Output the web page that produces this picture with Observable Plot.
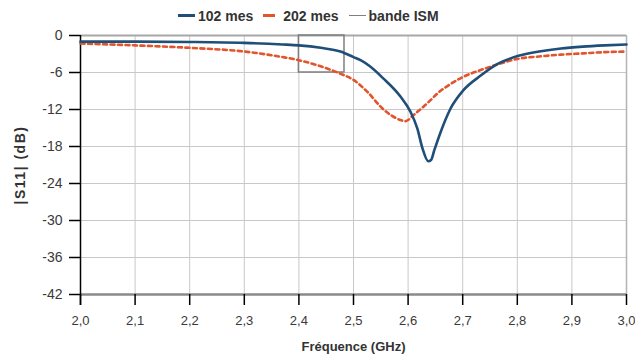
<!DOCTYPE html>
<html>
<head>
<meta charset="utf-8">
<script src="https://cdn.jsdelivr.net/npm/d3@7"></script>
<script src="https://cdn.jsdelivr.net/npm/@observablehq/plot@0.6"></script>
<style>
  body { margin: 0; background: #fff; font-family: "Liberation Sans", Arial, sans-serif; }
  #wrap { width: 635px; }
  #legend { height: 27px; display: flex; align-items: center; padding-left: 178px; padding-top: 4px; box-sizing: border-box;
            font-weight: bold; font-size: 14px; color: #333; }
  .item { display: flex; align-items: center; margin-right: 10px; }
  .sw { width: 17px; height: 0; margin-right: 3px; }
  svg [aria-label="x-axis tick label"], svg [aria-label="x-axis tick label"] text { font-size: 13px !important; }
  svg [aria-label="y-axis tick label"], svg [aria-label="y-axis tick label"] text { font-size: 14px !important; }
  svg [aria-label="x-axis label"], svg [aria-label="x-axis label"] text { font-weight: bold; font-size: 13px !important; fill: #333; }
  svg [aria-label="y-axis label"], svg [aria-label="y-axis label"] text { font-weight: bold; font-size: 14px !important; letter-spacing: 1.5px; fill: #333; }
</style>
</head>
<body>
<div id="wrap">
  <div id="legend"></div>
  <div id="chart"></div>
</div>
<script>
// Series names
const seriesNames = ["102 mes", "202 mes", "bande ISM"];
const seriesColors = ["#1f4e79", "#e2542b", "#7f7f7f"];

// 102 mes
const freq102 = [2.0, 2.1, 2.2, 2.3, 2.37, 2.4, 2.44, 2.476, 2.5, 2.513, 2.53, 2.555, 2.586, 2.604, 2.617, 2.626, 2.637, 2.642, 2.648, 2.659, 2.678, 2.701, 2.733, 2.764, 2.802, 2.84, 2.88, 2.92, 2.96, 3.0];
const s102    = [-1.0, -1.0, -1.05, -1.2, -1.45, -1.6, -2.0, -2.6, -3.5, -4.0, -5.0, -7.0, -9.9, -12.3, -15.1, -18.2, -20.4, -20.2, -18.6, -15.8, -11.8, -8.9, -6.5, -4.6, -3.3, -2.6, -2.1, -1.8, -1.6, -1.45];

// 202 mes
const freq202 = [2.0, 2.1, 2.2, 2.3, 2.37, 2.4, 2.44, 2.476, 2.5, 2.525, 2.555, 2.586, 2.595, 2.61, 2.635, 2.659, 2.672, 2.701, 2.733, 2.76, 2.8, 2.84, 2.88, 2.92, 2.96, 3.0];
const s202    = [-1.3, -1.6, -2.0, -2.6, -3.5, -4.0, -5.0, -6.2, -7.2, -9.1, -12.0, -13.7, -13.9, -12.9, -11.0, -9.0, -8.2, -6.7, -5.6, -4.8, -3.8, -3.4, -3.1, -2.9, -2.7, -2.6];

// ISM band
const ismBand = [2.4, 2.4835];
const ismLevel = [0, -6];

// Axis ticks
const xTicks = [2.0, 2.1, 2.2, 2.3, 2.4, 2.5, 2.6, 2.7, 2.8, 2.9, 3.0];
const yTicks = [0, -6, -12, -18, -24, -30, -36, -42];

const d102 = freq102.map((f, i) => ({f, s: s102[i]}));
const d202 = freq202.map((f, i) => ({f, s: s202[i]}));
const ism = [{x1: ismBand[0], x2: ismBand[1], y1: ismLevel[0], y2: ismLevel[1]}];

// Legend
const legend = document.getElementById("legend");
const swStyles = [
  "border-top: 3px solid " + seriesColors[0],
  "border-top: 3px dashed " + seriesColors[1] + "; width: 12px; margin-right:8px",
  "border-top: 1.5px solid " + seriesColors[2]
];
seriesNames.forEach((n, i) => {
  const it = document.createElement("div");
  it.className = "item";
  it.innerHTML = `<span class="sw" style="${swStyles[i]}"></span><span>${n}</span>`;
  legend.appendChild(it);
});

const plot = Plot.plot({
  width: 635,
  height: 327,
  marginTop: 8,
  marginBottom: 60,
  marginLeft: 80,
  marginRight: 9,
  style: {fontFamily: "'Liberation Sans', Arial, sans-serif", fontSize: "13px", color: "#404040"},
  x: {domain: [2.0, 3.0]},
  y: {domain: [-42, 0]},
  marks: [
    Plot.ruleX(xTicks.slice(1, -1), {stroke: "#c8c8c8", strokeWidth: 1}),
    Plot.ruleY(yTicks.slice(1, -1), {stroke: "#c8c8c8", strokeWidth: 1}),
    Plot.ruleY([yTicks[0]], {stroke: "#a8a8a8", strokeWidth: 2}),
    Plot.ruleX([xTicks[xTicks.length - 1]], {stroke: "#b4b4b4", strokeWidth: 1.5}),
    Plot.rect(ism, {x1: "x1", x2: "x2", y1: "y1", y2: "y2", fill: "none", stroke: seriesColors[2], strokeWidth: 1.5}),
    Plot.ruleY([yTicks[yTicks.length - 1]], {stroke: "#8a8a8a", strokeWidth: 2.5}),
    Plot.axisX({ticks: xTicks, tickSize: 11, tickPadding: 10, tickFormat: d => d.toFixed(1).replace(".", ","),
                stroke: "#000", strokeWidth: 1.5, fill: "#3a3a3a", fontSize: 13,
                label: "Fréquence (GHz)", labelAnchor: "center", labelOffset: 56, labelArrow: "none"}),
    Plot.axisY({ticks: yTicks, tickSize: 11, tickPadding: 7, tickFormat: d => String(d),
                stroke: "#000", strokeWidth: 1.5, fill: "#3a3a3a", fontSize: 14,
                label: "|S11| (dB)", labelAnchor: "center", labelOffset: 65, labelArrow: "none"}),
    Plot.ruleX([xTicks[0]], {stroke: "#000", strokeWidth: 1.5, insetBottom: -11}),
    Plot.line(d202, {x: "f", y: "s", stroke: seriesColors[1], strokeWidth: 2.6, strokeDasharray: "4,3.5", curve: "monotone-x"}),
    Plot.line(d102, {x: "f", y: "s", stroke: seriesColors[0], strokeWidth: 2.6, curve: "monotone-x"})
  ]
});
document.getElementById("chart").appendChild(plot);
</script>
</body>
</html>
